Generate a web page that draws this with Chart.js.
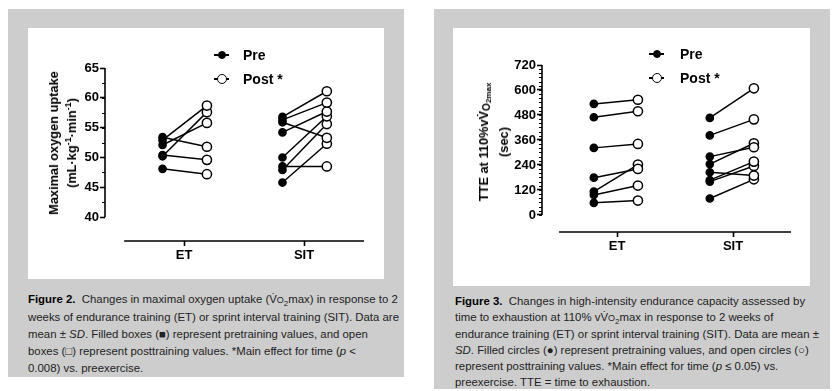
<!DOCTYPE html>
<html>
<head>
<meta charset="utf-8">
<script src="https://cdn.jsdelivr.net/npm/chart.js@4.4.0/dist/chart.umd.min.js"></script>
<style>
  body { margin: 0; width: 839px; height: 391px; background: #fff; position: relative; overflow: hidden;
         font-family: "Liberation Sans", Arial, Helvetica, sans-serif; }
  .panel { position: absolute; background: #cdcdcd; }
  .plot { position: absolute; background: #fff; }
  .ytitle { position: absolute; font-weight: bold; font-size: 12.8px; color: #000; white-space: nowrap;
            text-align: center; line-height: 18px; transform: translate(-50%, -50%) rotate(-90deg); }
  .leg { position: absolute; font-weight: bold; font-size: 14px; line-height: 16px; color: #000; white-space: nowrap; }
  .leg .ln { position: absolute; height: 2px; background: #000; }
  .leg .dot { position: absolute; border-radius: 50%; box-sizing: border-box; border: 1.6px solid #000; }
  .cap { position: absolute; font-size: 11.4px; color: #222; white-space: nowrap; }
  .cap b { color: #000; }
  sup, sub { font-size: 70%; line-height: 0; }
</style>
</head>
<body>
<div class="panel" style="left:8px;top:9px;width:396px;height:368px"></div>
<div class="panel" style="left:434px;top:9px;width:396px;height:380px"></div>

<div class="plot" style="left:28px;top:28px;width:356px;height:251px"><canvas id="vo2Chart"></canvas></div>
<div class="plot" style="left:453px;top:28px;width:357px;height:258px"><canvas id="tteChart"></canvas></div>

<div class="ytitle" style="left:63px;top:143px">Maximal oxygen uptake<br>(mL·kg<sup>-1</sup>·min<sup>-1</sup>)</div>
<div class="ytitle" style="left:494px;top:142px">TTE at 110%vV̇<span style="font-size:10px;position:relative;top:2px">O</span><span style="font-size:8px;position:relative;top:3px">2max</span><br>(sec)</div>

<div class="leg" style="left:214px;top:47px;width:80px;height:16px">
  <span class="ln" style="left:0;top:7px;width:15px"></span>
  <span class="dot" style="left:4px;top:4px;width:8px;height:8px;background:#000"></span>
  <span style="position:absolute;left:29px;top:0">Pre</span>
</div>
<div class="leg" style="left:214px;top:71px;width:80px;height:16px">
  <span class="ln" style="left:0;top:7px;width:15px"></span>
  <span class="dot" style="left:3px;top:3px;width:10px;height:10px;background:#fff"></span>
  <span style="position:absolute;left:29px;top:0">Post *</span>
</div>
<div class="leg" style="left:649px;top:46px;width:80px;height:16px">
  <span class="ln" style="left:0;top:7px;width:15px"></span>
  <span class="dot" style="left:4px;top:4px;width:8px;height:8px;background:#000"></span>
  <span style="position:absolute;left:31px;top:0">Pre</span>
</div>
<div class="leg" style="left:649px;top:70px;width:80px;height:16px">
  <span class="ln" style="left:0;top:7px;width:15px"></span>
  <span class="dot" style="left:3px;top:3px;width:10px;height:10px;background:#fff"></span>
  <span style="position:absolute;left:31px;top:0">Post *</span>
</div>

<div class="cap" style="left:28px;top:291px;line-height:17px">
<b>Figure 2.</b>&nbsp; Changes in maximal oxygen uptake (V̇<span style="font-size:9px">O</span><sub>2</sub>max) in response to 2<br>
weeks of endurance training (ET) or sprint interval training (SIT). Data are<br>
mean ± <i>SD</i>. Filled boxes (■) represent pretraining values, and open<br>
boxes (□) represent posttraining values. *Main effect for time (<i>p</i> &lt;<br>
0.008) vs. preexercise.
</div>
<div class="cap" style="left:455px;top:293px;line-height:16px">
<b>Figure 3.</b>&nbsp; Changes in high-intensity endurance capacity assessed by<br>
time to exhaustion at 110% vV̇<span style="font-size:9px">O</span><sub>2</sub>max in response to 2 weeks of<br>
endurance training (ET) or sprint interval training (SIT). Data are mean ±<br>
<i>SD</i>. Filled circles (●) represent pretraining values, and open circles (○)<br>
represent posttraining values. *Main effect for time (<i>p</i> ≤ 0.05) vs.<br>
preexercise. TTE = time to exhaustion.
</div>

<script>
// groups on the x axis
const groups = ['ET', 'SIT'];

// Figure 2: VO2max (mL/kg/min), pre and post, one entry per subject
const vo2EtPre   = [53.4, 52.9, 52.1, 50.4, 50.2, 48.1];
const vo2EtPost  = [51.8, 58.7, 55.8, 49.6, 57.6, 47.2];
const vo2SitPre  = [56.8, 56.3, 55.9, 54.2, 50.0, 48.5, 47.9, 45.8];
const vo2SitPost = [61.1, 59.2, 53.3, 57.7, 56.9, 48.5, 55.6, 52.3];
const vo2Ticks   = [40, 45, 50, 55, 60, 65];

// Figure 3: time to exhaustion (s)
const tteEtPre   = [533, 469, 322, 179, 112, 96, 58];
const tteEtPost  = [553, 498, 341, 221, 242, 141, 69];
const tteSitPre  = [466, 382, 280, 244, 205, 167, 160, 79];
const tteSitPost = [608, 459, 325, 344, 189, 256, 235, 171];
const tteTicks   = [0, 120, 240, 360, 480, 600, 720];

const FONT = '"Liberation Sans", Arial, Helvetica, sans-serif';

// one line per subject, pre -> post
function pairs(pre, post, grp, offPre, offPost) {
  return pre.map((v, i) => ({
    data: [{ x: grp + offPre, y: v }, { x: grp + offPost, y: post[i] }],
    showLine: true,
    borderColor: '#000',
    borderWidth: 1.5,
    pointRadius: [3.6, 4.6],
    pointHoverRadius: [3.6, 4.6],
    pointBackgroundColor: ['#000', '#fff'],
    pointBorderColor: '#000',
    pointBorderWidth: 1.5,
    clip: false
  }));
}

// prism-style detached axes + minor ticks
const offsetAxes = {
  id: 'offsetAxes',
  afterDraw(chart, args, o) {
    const ctx = chart.ctx, xs = chart.scales.x, ys = chart.scales.y, a = chart.chartArea;
    ctx.save();
    ctx.strokeStyle = '#000';
    ctx.lineWidth = 1.6;
    ctx.beginPath();
    ctx.moveTo(a.left, ys.getPixelForValue(o.yFrom));
    ctx.lineTo(a.left, ys.getPixelForValue(o.yTo));
    ctx.moveTo(xs.getPixelForValue(o.xFrom), a.bottom);
    ctx.lineTo(xs.getPixelForValue(o.xTo), a.bottom);
    ctx.stroke();
    ctx.lineWidth = 1.2;
    ctx.beginPath();
    for (let v = o.yFrom; v <= o.yTo + 1e-6; v += o.minor) {
      const p = Math.round(ys.getPixelForValue(v)) + 0.5;
      ctx.moveTo(a.left, p);
      ctx.lineTo(a.left - 3, p);
    }
    ctx.stroke();
    ctx.restore();
  }
};

function makeChart(id, datasets, yTicks, yMin, yMax, xMin, yWidth, xHeight, padTop, padRight, minor) {
  return new Chart(document.getElementById(id), {
    type: 'scatter',
    data: { datasets: datasets },
    options: {
      responsive: true,
      maintainAspectRatio: false,
      animation: false,
      events: [],
      layout: { padding: { top: padTop, right: padRight, left: 0, bottom: 0 } },
      plugins: {
        legend: { display: false },
        tooltip: { enabled: false },
        offsetAxes: { yFrom: yTicks[0], yTo: yTicks[yTicks.length - 1], xFrom: 0.5, xTo: 2.5, minor: minor }
      },
      scales: {
        x: {
          type: 'linear', min: xMin, max: 2.5,
          afterBuildTicks: s => { s.ticks = groups.map((g, i) => ({ value: i + 1 })); },
          afterFit: s => { s.height = xHeight; },
          border: { display: false },
          grid: { drawOnChartArea: false, drawTicks: true, tickLength: 5, tickWidth: 1.6, tickColor: '#000' },
          ticks: { autoSkip: false, maxRotation: 0, padding: 2, color: '#000',
                   font: { family: FONT, size: 13, weight: 'bold' },
                   callback: v => groups[Math.round(v) - 1] }
        },
        y: {
          min: yMin, max: yMax,
          afterBuildTicks: s => { s.ticks = yTicks.map(v => ({ value: v })); },
          afterFit: s => { s.width = yWidth; },
          border: { display: false },
          grid: { drawOnChartArea: false, drawTicks: true, tickLength: 5, tickWidth: 1.6, tickColor: '#000' },
          ticks: { autoSkip: false, padding: 1, color: '#000',
                   font: { family: FONT, size: 13, weight: 'bold' } }
        }
      }
    },
    plugins: [offsetAxes]
  });
}

makeChart('vo2Chart',
  pairs(vo2EtPre, vo2EtPost, 1, -0.18, 0.19).concat(pairs(vo2SitPre, vo2SitPost, 2, -0.18, 0.19)),
  vo2Ticks, 36, 65, 0.34, 77, 38, 40, 20, 2.5);

makeChart('tteChart',
  pairs(tteEtPre, tteEtPost, 1, -0.2, 0.18).concat(pairs(tteSitPre, tteSitPost, 2, -0.2, 0.18)),
  tteTicks, -82, 720, 0.353, 89, 54, 37, 19, 20);
</script>
</body>
</html>
